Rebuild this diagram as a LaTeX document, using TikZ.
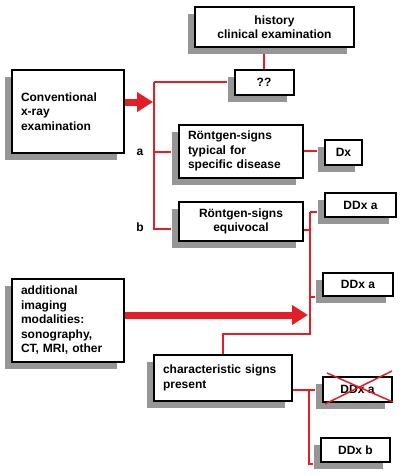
\documentclass[tikz,border=0pt]{standalone}
\usepackage{fontspec}
\setmainfont{Liberation Sans}
\usetikzlibrary{shadows,arrows.meta}
\definecolor{lred}{RGB}{226,30,38}
\definecolor{sgray}{RGB}{150,150,150}
\begin{document}
\begin{tikzpicture}[x=1pt,y=-1pt,
  box/.style={draw=black, line width=2pt, fill=white, inner sep=0pt,
    font=\bfseries\fontsize{12}{14.5}\selectfont,
    general shadow={fill=sgray, shadow xshift=-7pt, shadow yshift=-7pt}},
  lbox/.style={box, align=left, inner xsep=9pt},
  cbox/.style={box, align=center},
  conn/.style={draw=lred, line width=1.5pt},
  toshadow/.style={shorten >=7pt},
  bigarrow/.style={draw=lred, line width=7pt, -{Triangle[length=16pt,width=19pt]}, lred},
  lbl/.style={font=\bfseries\fontsize{12}{14.5}\selectfont, inner sep=0pt}]
\useasboundingbox (0,0) rectangle (400,475);
\fill[white] (0,0) rectangle (400,475);

\node[cbox, minimum width=159pt, minimum height=40pt] (hist) at (274.5,27) {history\\clinical examination};
\node[cbox, minimum width=59pt, minimum height=25pt] (qm) at (264,82) {??};
\node[lbox, text width=94pt, minimum height=83pt] (conv) at (68,111.5) {Conventional\\x-ray\\examination};
\node[lbox, text width=106pt, minimum height=53pt] (typ) at (241,151) {Röntgen-signs\\typical for\\specific disease};
\node[cbox, minimum width=37pt, minimum height=25pt] (dx) at (343.5,152) {Dx};
\node[cbox, minimum width=124pt, minimum height=39pt] (equ) at (241,221.5) {Röntgen-signs\\equivocal};
\node[cbox, minimum width=71pt, minimum height=24pt] (ddx1) at (360.5,205) {DDx a};
\node[cbox, minimum width=70pt, minimum height=23pt] (ddx2) at (358,284.5) {DDx a};
\node[lbox, text width=94pt, minimum height=83pt] (add) at (68,320.5) {additional\\imaging\\modalities:\\sonography,\\CT, MRI, other};
\node[lbox, text width=120pt, minimum height=46pt] (char) at (223,378) {characteristic signs\\present};
\node[cbox, minimum width=69pt, minimum height=25pt] (ddx3) at (357.5,389.5) {DDx a};
\node[cbox, minimum width=69pt, minimum height=24pt] (ddxb) at (355.5,450) {DDx b};

\node[lbl] (la) at (140,152) {a};
\node[lbl] (lb) at (140,227) {b};

\coordinate (j1) at (154,82);
\coordinate (ja) at (154,152);
\coordinate (jb) at (154,229);
\coordinate (jh) at (264,47);
\coordinate (e0) at (310,212);
\coordinate (e1) at (310,230);
\coordinate (e2) at (310,297);
\coordinate (e3) at (310,334);
\coordinate (e4) at (223,334);
\coordinate (c1) at (309,390);
\coordinate (c2) at (309,464);
\coordinate (t1) at (153,102);
\coordinate (t2) at (308,315);

\draw[conn, toshadow] (qm.north) -- (jh);
\draw[conn, toshadow] (j1) -- (qm.west);
\draw[conn, toshadow] (j1) -- (jb) -- (jb -| equ.west);
\draw[conn, toshadow] (ja) -- (ja -| typ.west);
\draw[conn, toshadow] (typ.east) -- (typ.east -| dx.west);
\draw[conn] (equ.east |- e1) -- (e1);
\draw[conn] (char.north) -- (e4) -- (e3) -- (e0);
\draw[conn, toshadow] (e0) -- (e0 -| ddx1.west);
\draw[conn, toshadow] (e2) -- (e2 -| ddx2.west);
\draw[conn, toshadow] (char.east |- c1) -- (c1 -| ddx3.west);
\draw[conn, toshadow] (c1) -- (c2) -- (c2 -| ddxb.west);

\draw[bigarrow] (conv.east |- t1) -- (t1);
\draw[bigarrow] (add.east |- t2) -- (t2);

\coordinate (x1) at (327,373);
\coordinate (x2) at (393,402);
\coordinate (x3) at (325,404);
\coordinate (x4) at (392,371);
\draw[lred, line width=1.5pt] (x1) -- (x2);
\draw[lred, line width=1.5pt] (x3) -- (x4);
\end{tikzpicture}
\end{document}
